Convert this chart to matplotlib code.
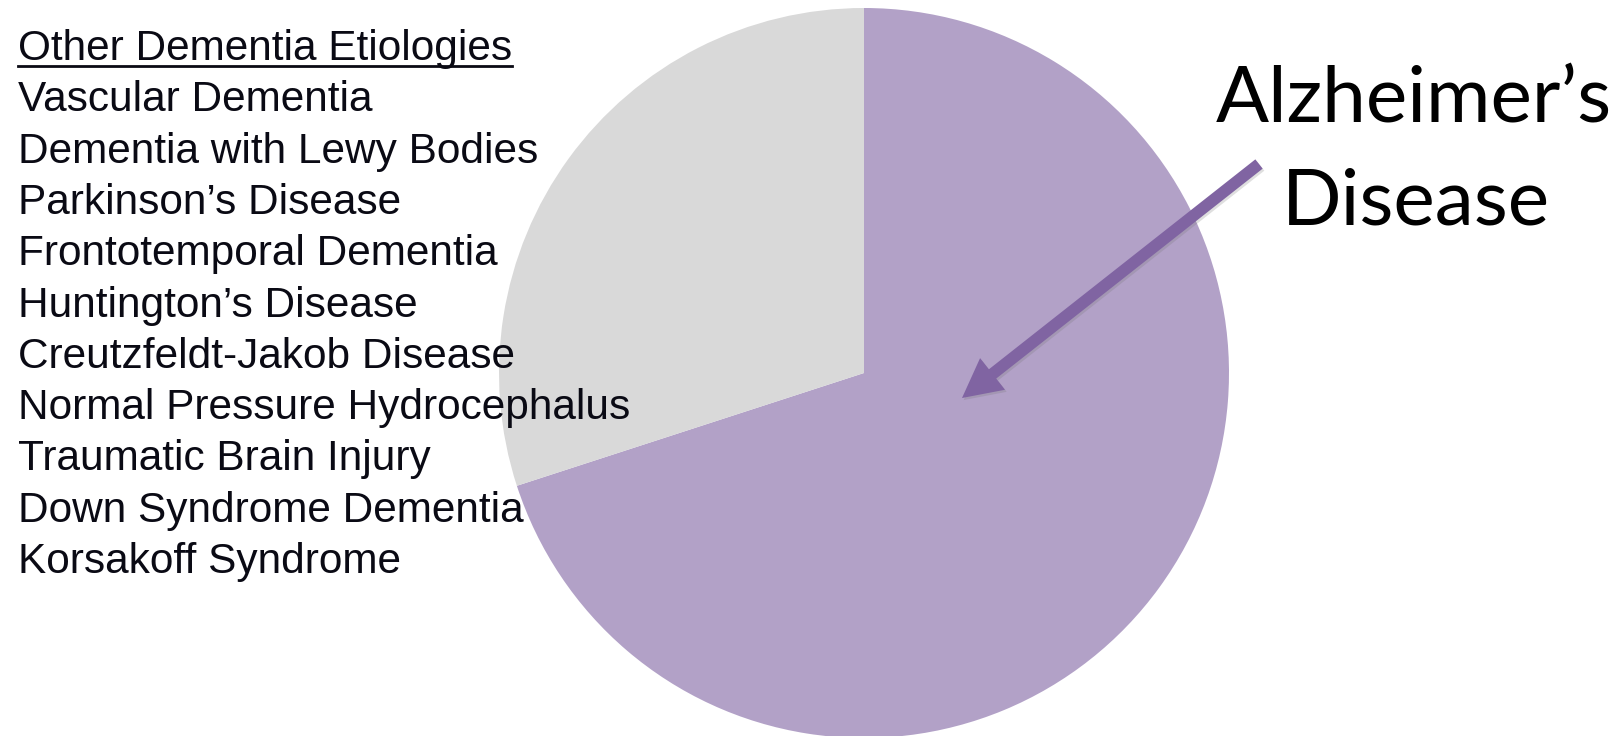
import matplotlib
matplotlib.use("Agg")
import matplotlib.pyplot as plt
from matplotlib.patches import FancyArrowPatch
from matplotlib.lines import Line2D
import matplotlib.patheffects as pe

# Share of dementia cases
slice_labels = ["Alzheimer's Disease", "Other Dementia Etiologies"]
slice_values = [70, 30]
slice_colors = ["#B2A1C7", "#D9D9D9"]

list_title = "Other Dementia Etiologies"
other_etiologies = [
    "Vascular Dementia",
    "Dementia with Lewy Bodies",
    "Parkinson\u2019s Disease",
    "Frontotemporal Dementia",
    "Huntington\u2019s Disease",
    "Creutzfeldt-Jakob Disease",
    "Normal Pressure Hydrocephalus",
    "Traumatic Brain Injury",
    "Down Syndrome Dementia",
    "Korsakoff Syndrome",
]
callout_lines = ["Alzheimer\u2019s", "Disease"]

W, H = 1624, 736
fig = plt.figure(figsize=(W / 100, H / 100), dpi=100)
fig.patch.set_facecolor("white")


def fx(px):
    return px / W


def fy(py):
    return 1 - py / H


# Pie: centre (864, 373) px, radius 365 px
cx, cy, r = 864, 373, 365
ax = fig.add_axes([fx(cx - r), fy(cy + r), 2 * r / W, 2 * r / H])
ax.pie(slice_values, colors=slice_colors, startangle=90, counterclock=False,
       radius=1, wedgeprops=dict(linewidth=0))
ax.set_xlim(-1, 1)
ax.set_ylim(-1, 1)
ax.set_aspect("equal")
ax.axis("off")

# Left-hand list of other etiologies
left_x = 18
base0 = 60
step = 51.3
list_font = dict(family="Liberation Sans", fontsize=30.5, color="#0a0a14")
title_txt = fig.text(fx(left_x), fy(base0), list_title, va="baseline", ha="left", **list_font)
for i, name in enumerate(other_etiologies, start=1):
    fig.text(fx(left_x), fy(base0 + i * step), name, va="baseline", ha="left", **list_font)

# Underline the list heading
fig.canvas.draw()
bb = title_txt.get_window_extent()
fig.add_artist(Line2D([bb.x0 / W, bb.x1 / W], [fy(66), fy(66)],
                      transform=fig.transFigure, color="#0a0a14", linewidth=2.0))

# Callout text
callout_font = dict(family="Lato", fontsize=56.5, color="black", ha="center", va="baseline")
fig.text(fx(1414), fy(121), callout_lines[0], **callout_font)
fig.text(fx(1416), fy(225), callout_lines[1], **callout_font)

# Arrow pointing into the Alzheimer's slice
arrow = FancyArrowPatch(
    (fx(1259), fy(164)), (fx(962), fy(398)),
    transform=fig.transFigure,
    arrowstyle="simple,head_length=28,head_width=29,tail_width=8.5",
    mutation_scale=1, shrinkA=0, shrinkB=0,
    color="#8064A2", linewidth=0,
)
arrow.set_path_effects([
    pe.SimplePatchShadow(offset=(1.2, -1.5), shadow_rgbFace="#6f6f6f", alpha=0.22),
    pe.Normal(),
])
fig.add_artist(arrow)

fig.savefig("out.png", dpi=100, facecolor="white")
